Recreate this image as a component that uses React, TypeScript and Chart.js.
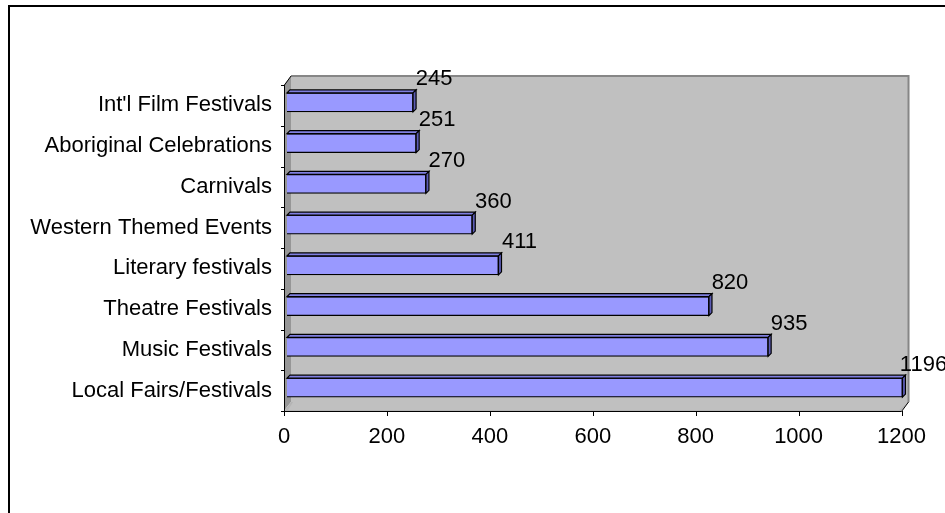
import React, { useEffect, useRef } from "react";
import { Chart, registerables } from "chart.js";

Chart.register(...registerables);

const categories = [
  "Int'l Film Festivals",
  "Aboriginal Celebrations",
  "Carnivals",
  "Western Themed Events",
  "Literary festivals",
  "Theatre Festivals",
  "Music Festivals",
  "Local Fairs/Festivals",
];
const values = [245, 251, 270, 360, 411, 820, 935, 1196];
const xMin = 0;
const xMax = 1200;
const xStep = 200;

const FONT = "'Liberation Sans', Arial, sans-serif";

// offsets of 3D planes relative to the bar plane
const FRONT = { dx: -3, dy: 3 };
const BACK = { dx: 4, dy: -6 };
const BAR_DEPTH = 3;

const decoPlugin = {
  id: "deco",
  beforeDraw(chart: any) {
    const { ctx, chartArea: a, width, height } = chart;
    ctx.save();
    ctx.fillStyle = "#ffffff";
    ctx.fillRect(0, 0, width, height);
    // outer frame
    ctx.strokeStyle = "#000000";
    ctx.lineWidth = 2;
    ctx.strokeRect(9, 6, width + 20, height + 20);

    const fl = a.left + FRONT.dx, fr = a.right + FRONT.dx;
    const ft = a.top + FRONT.dy, fb = a.bottom + FRONT.dy;
    const bl = a.left + BACK.dx, br = a.right + BACK.dx;
    const bt = a.top + BACK.dy, bb = a.bottom + BACK.dy;

    // back wall
    ctx.fillStyle = "#C0C0C0";
    ctx.fillRect(bl, bt, br - bl, bb - bt);
    ctx.strokeStyle = "#868686";
    ctx.lineWidth = 2;
    ctx.beginPath();
    ctx.moveTo(bl, bt);
    ctx.lineTo(br, bt);
    ctx.lineTo(br, bb);
    ctx.stroke();

    // left wall
    ctx.fillStyle = "#969696";
    ctx.beginPath();
    ctx.moveTo(fl, ft);
    ctx.lineTo(bl, bt);
    ctx.lineTo(bl, bb);
    ctx.lineTo(fl, fb);
    ctx.closePath();
    ctx.fill();

    // floor
    ctx.fillStyle = "#B4B4B4";
    ctx.beginPath();
    ctx.moveTo(fl, fb);
    ctx.lineTo(bl, bb);
    ctx.lineTo(br, bb);
    ctx.lineTo(fr, fb);
    ctx.closePath();
    ctx.fill();
    ctx.fillStyle = "#C0C0C0";
    ctx.beginPath();
    ctx.moveTo(fl + 4, fb - 1);
    ctx.lineTo(bl + 2, bb);
    ctx.lineTo(br, bb);
    ctx.lineTo(fr - 2, fb - 1);
    ctx.closePath();
    ctx.fill();

    // axes
    ctx.strokeStyle = "#000000";
    ctx.lineWidth = 1;
    ctx.beginPath();
    ctx.moveTo(bl, bt);
    ctx.lineTo(fl + 0.5, ft);
    ctx.lineTo(fl + 0.5, fb + 0.5);
    ctx.lineTo(fr, fb + 0.5);
    ctx.lineTo(br, bb);
    ctx.stroke();

    // y ticks at category boundaries (front plane)
    const n = categories.length;
    const band = (a.bottom - a.top) / n;
    ctx.beginPath();
    for (let i = 0; i <= n; i++) {
      const yy = Math.round(a.top + band * i + FRONT.dy) + 0.5;
      ctx.moveTo(fl - 3, yy);
      ctx.lineTo(fl + 0.5, yy);
    }
    // x ticks
    const xScale = chart.scales.x;
    for (let v = xMin; v <= xMax; v += xStep) {
      const xx = Math.round(xScale.getPixelForValue(v) + FRONT.dx) + 0.5;
      ctx.moveTo(xx, fb);
      ctx.lineTo(xx, fb + 5);
    }
    ctx.stroke();
    ctx.restore();
  },
  afterDatasetsDraw(chart: any) {
    const { ctx } = chart;
    const meta = chart.getDatasetMeta(0);
    ctx.save();
    meta.data.forEach((el: any, i: number) => {
      const p = el.getProps(["x", "y", "base", "height"], true);
      const top = p.y - p.height / 2;
      const bottom = p.y + p.height / 2;
      const d = BAR_DEPTH;
      ctx.lineWidth = 1.2;
      ctx.strokeStyle = "#000000";
      // top face
      ctx.fillStyle = "#7F7FE0";
      ctx.beginPath();
      ctx.moveTo(p.base, top);
      ctx.lineTo(p.base + d, top - d);
      ctx.lineTo(p.x + d, top - d);
      ctx.lineTo(p.x, top);
      ctx.closePath();
      ctx.fill();
      ctx.stroke();
      // side face
      ctx.fillStyle = "#5C5CB4";
      ctx.beginPath();
      ctx.moveTo(p.x, top);
      ctx.lineTo(p.x + d, top - d);
      ctx.lineTo(p.x + d, bottom - d);
      ctx.lineTo(p.x, bottom);
      ctx.closePath();
      ctx.fill();
      ctx.stroke();
      // value label
      ctx.fillStyle = "#000000";
      ctx.font = `22px ${FONT}`;
      ctx.textAlign = "center";
      ctx.textBaseline = "middle";
      ctx.fillText(String(values[i]), p.x + 21, p.y - 23);
    });
    ctx.restore();
  },
};

export default function App() {
  const ref = useRef<HTMLCanvasElement | null>(null);
  useEffect(() => {
    if (!ref.current) return;
    const chart = new Chart(ref.current, {
      type: "bar",
      data: {
        labels: categories,
        datasets: [
          {
            data: values,
            backgroundColor: "#9999FF",
            borderColor: "#000000",
            borderWidth: 1.2,
            barThickness: 19,
          },
        ],
      },
      options: {
        indexAxis: "y",
        animation: false,
        responsive: false,
        devicePixelRatio: 1,
        layout: { padding: { left: 0, right: 36, top: 82, bottom: 0 } },
        plugins: {
          legend: { display: false },
          tooltip: { enabled: false },
        },
        scales: {
          x: {
            min: xMin,
            max: xMax,
            grid: { display: false, drawTicks: false },
            border: { display: false },
            afterFit: (s: any) => {
              s.height = 105;
            },
            ticks: {
              stepSize: xStep,
              color: "#000000",
              font: { family: FONT, size: 22 },
              labelOffset: -3,
              padding: 16,
              maxRotation: 0,
              callback: (v: any) => String(v),
            },
          },
          y: {
            grid: { display: false, drawTicks: false },
            border: { display: false },
            afterFit: (s: any) => {
              s.width = 287;
            },
            ticks: {
              color: "#000000",
              font: { family: FONT, size: 22 },
              labelOffset: 3,
              padding: 15,
              autoSkip: false,
            },
          },
        },
      },
      plugins: [decoPlugin],
    } as any);
    return () => chart.destroy();
  }, []);
  return (
    <div style={{ position: "absolute", left: 0, top: 0, width: 945, height: 513, overflow: "hidden" }}>
      <canvas ref={ref} width={945} height={513} style={{ width: 945, height: 513, display: "block" }} />
    </div>
  );
}
